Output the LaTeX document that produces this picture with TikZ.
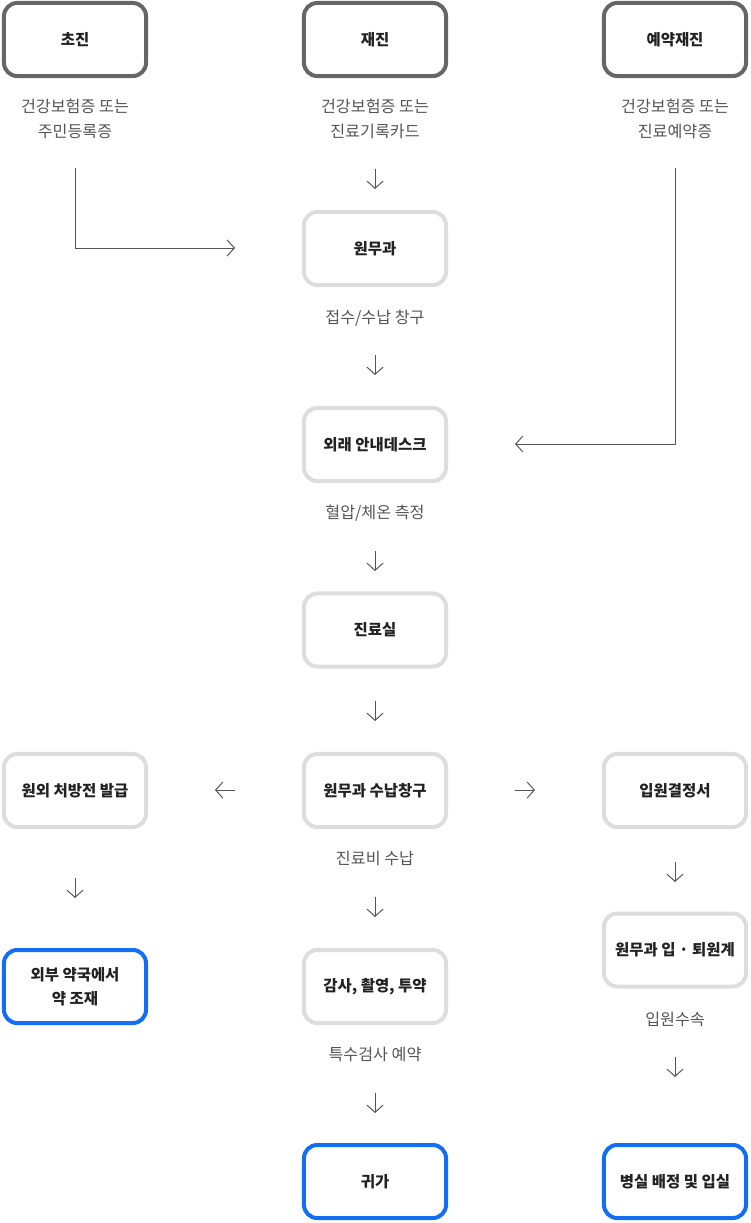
\documentclass[tikz,border=0pt]{standalone}
\usepackage{fontspec}
\setmainfont{Noto Sans CJK KR}
\usetikzlibrary{arrows.meta}
\definecolor{boxdark}{HTML}{666666}
\definecolor{boxlight}{HTML}{DDDDDD}
\definecolor{boxblue}{HTML}{146EF5}
\definecolor{linegray}{HTML}{555555}
\definecolor{textdark}{HTML}{222222}
\definecolor{textgray}{HTML}{555555}
\begin{document}
\begin{tikzpicture}[x=0.025cm,y=-0.025cm]
		\tikzstyle{box} = [draw, rounded corners=0.33cm, line width=0.1cm, minimum width=3.55cm, minimum height=1.825cm, inner sep=0, align=center, text=textdark, font=\fontsize{11}{17}\selectfont\bfseries]
		\tikzstyle{box_top} = [box, draw=boxdark]
		\tikzstyle{box_mid} = [box, draw=boxlight]
		\tikzstyle{box_end} = [box, draw=boxblue]
		\tikzstyle{note} = [inner sep=0, align=center, text=textgray, font=\fontsize{11.5}{17.8}\selectfont]
		\tikzstyle{arr} = [-{Straight Barb[length=0.18cm,width=0.4cm]}, line width=0.7pt, draw=linegray]
		\useasboundingbox (0,0) rectangle (750,1223);
		% top row
		\node [box_top] (first) at (75,39.5) {초진};
		\node [box_top] (revisit) at (375,39.5) {재진};
		\node [box_top] (reserve) at (675,39.5) {예약재진};
		\node [note] (first_doc) at (75,118.5) {건강보험증 또는\\주민등록증};
		\node [note] (revisit_doc) at (375,118.5) {건강보험증 또는\\진료기록카드};
		\node [note] (reserve_doc) at (675,118.5) {건강보험증 또는\\진료예약증};
		% middle column
		\node [box_mid] (admin) at (375,248.5) {원무과};
		\node [note] (admin_note) at (375,318) {접수/수납 창구};
		\node [box_mid] (desk) at (375,444.5) {외래 안내데스크};
		\node [note] (desk_note) at (375,513) {혈압/체온 측정};
		\node [box_mid] (clinic) at (375,630) {진료실};
		\node [box_mid] (cashier) at (375,790.5) {원무과 수납창구};
		\node [note] (cashier_note) at (375,858) {진료비 수납};
		\node [box_mid] (tests) at (375,986.5) {감사, 촬영, 투약};
		\node [note] (tests_note) at (375,1054) {특수검사 예약};
		\node [box_end] (home) at (375,1181.5) {귀가};
		% left column
		\node [box_mid] (rx) at (75,790.5) {원외 처방전 발급};
		\node [box_end] (pharmacy) at (75,986.5) {외부 약국에서\\약 조재};
		% right column
		\node [box_mid] (admit) at (675,790.5) {입원결정서};
		\node [box_mid] (ward_desk) at (675,950) {원무과 입 · 퇴원계};
		\node [note] (ward_note) at (675,1019) {입원수속};
		\node [box_end] (ward) at (675,1181.5) {병실 배정 및 입실};
		% elbows
		\coordinate (e1a) at (75,168);
		\coordinate (e1b) at (75,248);
		\coordinate (e1c) at (235,248);
		\draw [arr] (e1a) -- (e1b) -- (e1c);
		\coordinate (e2a) at (675,168);
		\coordinate (e2b) at (675,444);
		\coordinate (e2c) at (515,444);
		\draw [arr] (e2a) -- (e2b) -- (e2c);
		% short arrows
		\coordinate (d1a) at (375,169);
		\coordinate (d1b) at (375,189);
		\draw [arr] (d1a) -- (d1b);
		\coordinate (d2a) at (375,355);
		\coordinate (d2b) at (375,375);
		\draw [arr] (d2a) -- (d2b);
		\coordinate (d3a) at (375,551);
		\coordinate (d3b) at (375,571);
		\draw [arr] (d3a) -- (d3b);
		\coordinate (d4a) at (375,701);
		\coordinate (d4b) at (375,721);
		\draw [arr] (d4a) -- (d4b);
		\coordinate (d5a) at (375,897);
		\coordinate (d5b) at (375,917);
		\draw [arr] (d5a) -- (d5b);
		\coordinate (d6a) at (375,1093);
		\coordinate (d6b) at (375,1113);
		\draw [arr] (d6a) -- (d6b);
		\coordinate (l1a) at (75,878);
		\coordinate (l1b) at (75,898);
		\draw [arr] (l1a) -- (l1b);
		\coordinate (r1a) at (675,862);
		\coordinate (r1b) at (675,882);
		\draw [arr] (r1a) -- (r1b);
		\coordinate (r2a) at (675,1057);
		\coordinate (r2b) at (675,1077);
		\draw [arr] (r2a) -- (r2b);
		\coordinate (h1a) at (235,790);
		\coordinate (h1b) at (215,790);
		\draw [arr] (h1a) -- (h1b);
		\coordinate (h2a) at (515,790);
		\coordinate (h2b) at (535,790);
		\draw [arr] (h2a) -- (h2b);
\end{tikzpicture}
\end{document}
